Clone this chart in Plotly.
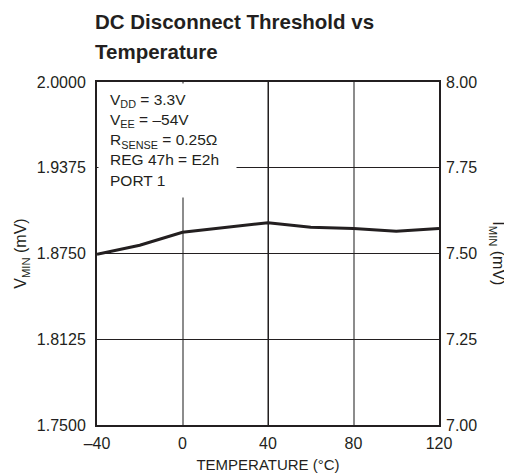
import plotly.graph_objects as go

# data
temps = [-40, -20, 0, 20, 40, 60, 80, 100, 120]
vmin = [1.8745, 1.881, 1.8905, 1.8942, 1.8974, 1.8942, 1.8932, 1.8913, 1.8932]
x_ticks = [-40, 0, 40, 80, 120]
x_labels = ['–40', '0', '40', '80', '120']
y_ticks = [1.75, 1.8125, 1.875, 1.9375, 2.0]
y_labels = ['1.7500', '1.8125', '1.8750', '1.9375', '2.0000']
y2_ticks = [7.0, 7.25, 7.5, 7.75, 8.0]
y2_labels = ['7.00', '7.25', '7.50', '7.75', '8.00']
imin = [v * 4 for v in vmin]

FONT = "Liberation Sans, Arial, sans-serif"
DARK = '#231f20'

fig = go.Figure()
fig.add_trace(go.Scatter(x=temps, y=vmin, mode='lines',
                         line=dict(color=DARK, width=3), showlegend=False))
fig.add_trace(go.Scatter(x=temps, y=imin, mode='lines', yaxis='y2',
                         line=dict(color='rgba(0,0,0,0)', width=0), showlegend=False,
                         hoverinfo='skip'))
# dark vertical grid line at 40 comes from an overlaying axis
fig.add_trace(go.Scatter(x=[None], y=[None], xaxis='x2', showlegend=False))

# page has an 8px body margin, so the figure is 8px smaller than the window
fig.update_layout(
    width=504, height=467,
    paper_bgcolor='white', plot_bgcolor='white',
    font=dict(family=FONT, color=DARK, size=16),
    margin=dict(l=89, r=73, t=74, b=50),
    xaxis=dict(range=[-40, 120], tickvals=x_ticks, ticktext=x_labels,
               showgrid=True, gridcolor='#8c8c8c', gridwidth=1.5,
               showline=True, linecolor=DARK, linewidth=2, mirror=True,
               ticks='', zeroline=False, ticklabelstandoff=3, automargin=False,
               title=dict(text='TEMPERATURE (°C)', standoff=8,
                          font=dict(size=15))),
    xaxis2=dict(range=[-40, 120], overlaying='x', tickvals=[40],
                showticklabels=False, showgrid=True, gridcolor=DARK, gridwidth=1.2,
                zeroline=False, showline=False, ticks='', automargin=False),
    yaxis=dict(range=[1.75, 2.0], tickvals=y_ticks, ticktext=y_labels,
               showgrid=True, gridcolor=DARK, gridwidth=1.2,
               showline=True, linecolor=DARK, linewidth=2, mirror=True,
               ticks='', zeroline=False, ticklabelstandoff=6, automargin=False,
               title=dict(text='V<sub>MIN</sub> (mV)', standoff=6,
                          font=dict(size=16))),
    yaxis2=dict(range=[7.0, 8.0], tickvals=y2_ticks, ticktext=y2_labels,
                overlaying='y', side='right', showgrid=False, automargin=False,
                ticks='', zeroline=False, showline=False, ticklabelstandoff=6),
)

# title, two lines
fig.add_annotation(xref='paper', yref='paper', x=-0.012, y=1.175,
                   xanchor='left', yanchor='middle', showarrow=False,
                   text='<b>DC Disconnect Threshold vs</b>',
                   font=dict(size=20.5))
fig.add_annotation(xref='paper', yref='paper', x=-0.012, y=1.0875,
                   xanchor='left', yanchor='middle', showarrow=False,
                   text='<b>Temperature</b>', font=dict(size=20.5))

# white box behind the conditions text
fig.add_annotation(xref='paper', yref='paper', x=0.003, y=0.997,
                   xanchor='left', yanchor='top', showarrow=False, text=' ',
                   width=137, height=113, bgcolor='white', borderpad=0)
fig.add_annotation(
    xref='paper', yref='paper', x=0.032, y=0.831, xanchor='left', yanchor='middle',
    align='left', showarrow=False,
    text=('V<sub>DD</sub> = 3.3V<br>V<sub>EE</sub> = –54V<br>'
          'R<sub>SENSE</sub> = 0.25Ω<br>REG 47h = E2h<br>PORT 1'),
    font=dict(size=15.5),
)
fig.add_annotation(
    xref='paper', yref='paper', x=1.17, y=0.5, xanchor='center', yanchor='middle',
    textangle=90, showarrow=False, text='I<sub>MIN</sub> (mV)', font=dict(size=16),
)

fig.write_html("out.html")
